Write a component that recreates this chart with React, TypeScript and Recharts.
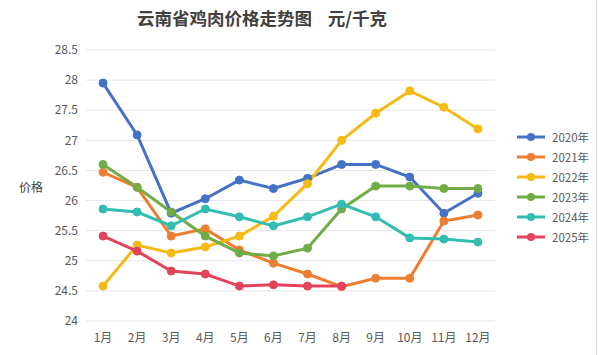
import { LineChart, Line, XAxis, YAxis, CartesianGrid } from 'recharts'

const months = ['1月', '2月', '3月', '4月', '5月', '6月', '7月', '8月', '9月', '10月', '11月', '12月']
const yTicks = [24, 24.5, 25, 25.5, 26, 26.5, 27, 27.5, 28, 28.5]

const y2020 = [27.95, 27.09, 25.79, 26.03, 26.34, 26.2, 26.37, 26.6, 26.6, 26.39, 25.79, 26.12]
const y2021 = [26.47, 26.22, 25.41, 25.53, 25.18, 24.96, 24.78, 24.57, 24.71, 24.71, 25.66, 25.76]
const y2022 = [24.58, 25.26, 25.13, 25.23, 25.41, 25.74, 26.28, 27.0, 27.45, 27.82, 27.55, 27.19]
const y2023 = [26.6, 26.22, 25.81, 25.41, 25.13, 25.08, 25.21, 25.86, 26.24, 26.24, 26.2, 26.2]
const y2024 = [25.86, 25.81, 25.58, 25.86, 25.73, 25.58, 25.73, 25.94, 25.73, 25.38, 25.36, 25.31]
const y2025 = [25.41, 25.16, 24.83, 24.78, 24.58, 24.6, 24.58, 24.58]

const series = [
  { key: 'y2020', name: '2020年', color: '#4472C4', values: y2020 },
  { key: 'y2021', name: '2021年', color: '#ED7D31', values: y2021 },
  { key: 'y2022', name: '2022年', color: '#F5BA14', values: y2022 },
  { key: 'y2023', name: '2023年', color: '#70AD47', values: y2023 },
  { key: 'y2024', name: '2024年', color: '#33BDB2', values: y2024 },
  { key: 'y2025', name: '2025年', color: '#E2445C', values: y2025 },
]

const data = months.map((m, i) => {
  const row: Record<string, number | string | undefined> = { x: i + 1, month: m }
  series.forEach(s => {
    row[s.key] = s.values[i]
  })
  return row
})

const font = '"Noto Sans CJK SC", "Noto Sans", sans-serif'
const gridTicks = Array.from({ length: 13 }, (_, i) => i + 0.5)

const App = () => {
  return (
    <div style={{ position: 'absolute', left: 0, top: 0, width: 600, height: 355, background: '#fff', fontFamily: font }}>
      {/* Title */}
      <div
        style={{
          position: 'absolute', left: 0, width: 524, top: 5, textAlign: 'center',
          fontSize: 17.5, fontWeight: 700, color: '#404040', whiteSpace: 'pre',
        }}
      >
        云南省鸡肉价格走势图{'    '}元/千克
      </div>

      {/* Y label */}
      <div style={{ position: 'absolute', left: 19, top: 178, fontSize: 12, color: '#404040' }}>价格</div>

      <LineChart width={600} height={355} data={data} margin={{ top: 50, right: 105, bottom: 0, left: 0 }}>
        <CartesianGrid horizontal vertical={false} stroke="#e6e6e6" />
        <XAxis
          xAxisId="g"
          dataKey="x"
          type="number"
          domain={[0.5, 12.5]}
          ticks={gridTicks}
          tick={false}
          height={0}
          tickSize={5}
          stroke="#d0d0d0"
        />
        <XAxis
          dataKey="x"
          type="number"
          domain={[0.5, 12.5]}
          ticks={months.map((_, i) => i + 1)}
          tickFormatter={(v: number) => months[v - 1]}
          axisLine={false}
          tickLine={false}
          height={34}
          tickMargin={6}
          tick={{ fill: '#595959', fontSize: 12 }}
          interval={0}
        />
        <YAxis
          type="number"
          domain={[24, 28.5]}
          ticks={yTicks}
          width={86}
          axisLine={false}
          tickLine={false}
          tick={{ fill: '#595959', fontSize: 12 }}
        />
        {series.map(s => (
          <Line
            key={s.key}
            dataKey={s.key}
            name={s.name}
            stroke={s.color}
            strokeWidth={3}
            dot={{ r: 4, fill: s.color, stroke: s.color, strokeWidth: 1 }}
            isAnimationActive={false}
            connectNulls={false}
          />
        ))}
      </LineChart>

      {/* Legend */}
      <div style={{ position: 'absolute', left: 516, top: 127 }}>
        {series.map(s => (
          <div key={s.key} style={{ display: 'flex', alignItems: 'center', height: 20 }}>
            <svg width={32} height={12}>
              <line x1={1} y1={6} x2={29} y2={6} stroke={s.color} strokeWidth={3} />
              <circle cx={15} cy={6} r={4} fill={s.color} />
            </svg>
            <span style={{ fontSize: 11.5, color: '#595959', marginLeft: 4 }}>{s.name}</span>
          </div>
        ))}
      </div>

      <div style={{ position: 'absolute', left: 596, top: 0, width: 1, height: 355, background: '#d9d9d9' }} />
    </div>
  )
}

export default App
